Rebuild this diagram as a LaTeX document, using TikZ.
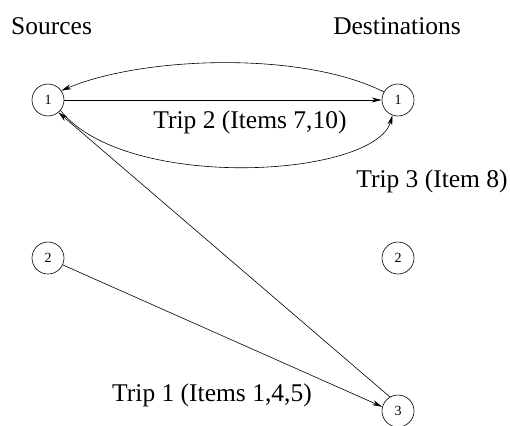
\documentclass[tikz,border=0pt]{standalone}
\usepackage{fontspec}
\setmainfont{Liberation Serif}
\usetikzlibrary{arrows.meta}
\begin{document}
\begin{tikzpicture}[x=1pt,y=-1pt,
  site/.style={circle,draw,line width=0.6pt,minimum size=32pt,inner sep=0pt,font=\fontsize{14}{14}\selectfont},
  lbl/.style={font=\fontsize{25.5}{28}\selectfont,inner sep=0pt},
  link/.style={line width=0.6pt,-{Stealth[length=10pt,width=5pt]}}]
\useasboundingbox (0,0) rectangle (510,425);
% column headings
\node[lbl,anchor=west] (src) at (11,26) {Sources};
\node[lbl] (dst) at (397,26) {Destinations};
% sources
\node[site] (s1) at (48,100) {1};
\node[site] (s2) at (48,258) {2};
% destinations
\node[site] (d1) at (398,100) {1};
\node[site] (d2) at (398,258) {2};
\node[site] (d3) at (398,411) {3};
% trips
\draw[link] (d1.150) .. controls (300,50) and (140,57) .. (s1.35);
\draw[link] (s1) -- (d1);
\draw[link] (s1.-40) .. controls (125,192) and (375,178) .. (d1.-110);
\draw[link] (d3.120) -- (s1.-50);
\draw[link] (s2.-25) -- (d3.165);
% trip labels
\node[lbl] (t2) at (250,122) {Trip 2 (Items 7,10)};
\node[lbl] (t3) at (432,181) {Trip 3 (Item 8)};
\node[lbl] (t1) at (212,395) {Trip 1 (Items 1,4,5)};
\end{tikzpicture}
\end{document}
